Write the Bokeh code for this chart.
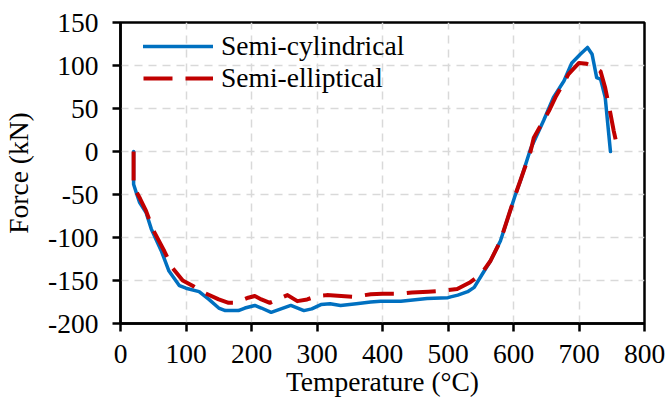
from bokeh.plotting import figure
from bokeh.models import Legend, LegendItem, FixedTicker
from bokeh.embed import file_html
from bokeh.resources import INLINE

# Semi-cylindrical (blue, solid)
temp_cyl = [20, 20, 25, 29, 39, 47, 62, 74, 90, 100, 120, 135, 150, 160, 180, 190,
            205, 215, 230, 245, 260, 280, 292, 306, 320, 336, 360, 382, 397, 428,
            468, 500, 504, 515, 530, 540, 552, 565, 580, 603, 611, 626, 646, 661,
            677, 689, 702, 713, 720, 727, 733, 740, 748]
force_cyl = [0, -38, -50, -59, -71, -90, -115, -139, -156, -159, -163, -172, -182,
             -185, -185, -182, -179, -182, -187, -183, -179, -185, -183, -178, -177,
             -179, -177, -175, -174, -174, -171, -170, -169, -167, -163, -158, -143,
             -127, -104, -50, -33, 3, 36, 63, 82, 103, 113, 121, 113, 86, 84, 63, 0]

# Semi-elliptical (red, dashed)
temp_ell = [20, 20, 23, 30, 39, 49, 67, 79, 95, 110, 130, 150, 165, 175, 195, 205,
            215, 228, 240, 255, 270, 285, 300, 315, 356, 382, 400, 425, 445, 470,
            491, 514, 534, 550, 565, 580, 603, 626, 631, 654, 664, 684, 700, 712,
            719, 733, 740, 748, 753, 760]
force_ell = [0, -40, -45, -55, -69, -90, -116, -135, -150, -156, -165, -172, -176,
             -176, -170, -168, -172, -176, -172, -167, -174, -172, -168, -167, -169,
             -166, -165.5, -165.5, -164, -163, -162, -160, -152, -143, -127, -104,
             -50, 0, 16, 47, 63, 90, 103, 102, 100, 93, 74, 44, 24, 0]

x_ticks = [0, 100, 200, 300, 400, 500, 600, 700, 800]
y_ticks = [-200, -150, -100, -50, 0, 50, 100, 150]
y_tick_labels = ["-200", "-150", "-100", "-50", "0", "50", "100", "150"]

FONT = "Liberation Serif"
FS = "27.5px"

p = figure(width=667, height=400, output_backend="svg", toolbar_location=None,
           x_range=(0, 800), y_range=(-200, 150),
           min_border_left=120, min_border_right=23, min_border_top=22,
           min_border_bottom=77)
p.background_fill_color = "white"
p.border_fill_color = "white"
p.outline_line_color = "black"
p.outline_line_width = 2.5

p.xaxis.ticker = FixedTicker(ticks=x_ticks)
p.yaxis.ticker = FixedTicker(ticks=y_ticks)
p.yaxis.major_label_overrides = dict(zip(y_ticks, y_tick_labels))
for ax in (p.xaxis[0], p.yaxis[0]):
    ax.axis_line_color = "black"
    ax.axis_line_width = 2.5
    ax.major_tick_line_color = "black"
    ax.major_tick_line_width = 2.5
    ax.major_tick_out = 8
    ax.major_tick_in = 0
    ax.minor_tick_line_color = None
    ax.major_label_text_font = FONT
    ax.major_label_text_font_size = FS
    ax.major_label_text_color = "black"
    ax.axis_label_text_font = FONT
    ax.axis_label_text_font_size = FS
    ax.axis_label_text_font_style = "normal"
    ax.axis_label_text_color = "black"
p.xaxis.axis_label = "Temperature (°C)"
p.yaxis.axis_label = "Force (kN)"
p.xaxis.major_label_standoff = 13
p.yaxis.major_label_standoff = 14
p.xaxis.axis_label_standoff = 0
p.yaxis.axis_label_standoff = 11

for g in (p.xgrid[0], p.ygrid[0]):
    g.grid_line_color = "#d9d9d9"
    g.grid_line_width = 1.5
    g.grid_line_dash = "8 6"

r1 = p.line(temp_cyl, force_cyl, line_color="#0070C0", line_width=3.5,
            line_join="round", line_cap="round")
r2 = p.line(temp_ell, force_ell, line_color="#C00000", line_width=4,
            line_dash="29 13", line_join="round")

legend = Legend(items=[LegendItem(label="Semi-cylindrical", renderers=[r1]),
                       LegendItem(label="Semi-elliptical", renderers=[r2])],
                location=(23, 229), orientation="vertical")
legend.margin = 0
legend.padding = 0
legend.spacing = -2
legend.glyph_width = 70
legend.glyph_height = 30
legend.label_height = 30
legend.label_standoff = 8
legend.label_text_font = FONT
legend.label_text_font_size = FS
legend.label_text_color = "black"
legend.border_line_color = None
legend.background_fill_alpha = 0
p.add_layout(legend, "center")

open("out.html", "w").write(file_html(p, INLINE))
